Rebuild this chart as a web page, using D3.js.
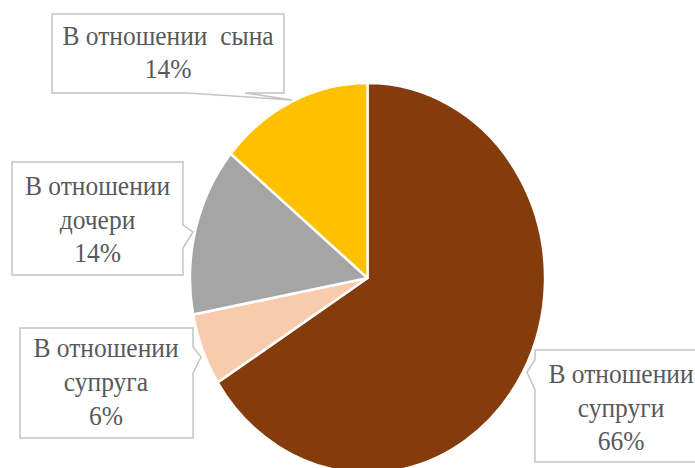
<!DOCTYPE html>
<html><head><meta charset="utf-8">
<script src="https://cdn.jsdelivr.net/npm/d3@7"></script>
<style>html,body{margin:0;padding:0;background:#fff;}svg{display:block;}
.lbl{font-family:"Liberation Serif","Times New Roman",serif;}</style>
</head><body>
<svg id="chart" width="695" height="468"></svg>
<script>
// Data
const categories = ["В отношении супруги", "В отношении супруга", "В отношении дочери", "В отношении  сына"];
const values = [66, 6, 14, 14];
const labelLines = [
  ["В отношении", "супруги", "66%"],
  ["В отношении", "супруга", "6%"],
  ["В отношении", "дочери", "14%"],
  ["В отношении  сына", "14%"]
];
const colors = ["#843C0C", "#F8CBAD", "#A5A5A5", "#FFC000"];

// Layout
const W = 695, H = 468;
const cx = 367.5, cy = 278, rx = 177.5, ry = 195;
const callouts = [
  {box:[535,350,708,462], side:"left",  base:[360,390], tip:[527,372], tx:621, baselines:[383,417,450]},
  {box:[20,328,193,438],  side:"right", base:[347,373], tip:[201,357], tx:106, baselines:[357,391,425]},
  {box:[12,162,183,275],  side:"right", base:[225,248], tip:[193,232], tx:97.5, baselines:[195,229,262]},
  {box:[52,14,284,93],    side:"bottom",base:[187,245], tip:[292,100], tx:168, baselines:[45,78]}
];

const svg = d3.select("#chart");
const pie = d3.pie().sort(null).value(d => d)(values);
const arc = d3.arc().innerRadius(0).outerRadius(rx);

svg.append("g")
  .attr("transform", `translate(${cx},${cy}) scale(1,${ry/rx})`)
  .selectAll("path").data(pie).join("path")
  .attr("d", arc)
  .attr("fill", (d,i) => colors[i])
  .attr("stroke", "#fff")
  .attr("stroke-width", 2.4)
  .attr("stroke-linejoin", "round");

function calloutPath(c){
  const [x0,y0,x1,y1] = c.box;
  const p = d3.path();
  p.moveTo(x0,y0);
  p.lineTo(x1,y0);
  if (c.side === "right"){
    p.lineTo(x1,c.base[0]); p.lineTo(c.tip[0],c.tip[1]); p.lineTo(x1,c.base[1]);
  }
  p.lineTo(x1,y1);
  if (c.side === "bottom"){
    p.lineTo(c.base[1],y1); p.lineTo(c.tip[0],c.tip[1]); p.lineTo(c.base[0],y1);
  }
  p.lineTo(x0,y1);
  if (c.side === "left"){
    p.lineTo(x0,c.base[1]); p.lineTo(c.tip[0],c.tip[1]); p.lineTo(x0,c.base[0]);
  }
  p.closePath();
  return p.toString();
}

const g = svg.append("g");
callouts.forEach((c,i) => {
  g.append("path")
    .attr("d", calloutPath(c))
    .attr("fill", "#fff")
    .attr("stroke", "#c4c4c4")
    .attr("stroke-width", 1.5);
  labelLines[i].forEach((line, j) => {
    g.append("g")
      .attr("transform", `translate(${c.tx},${c.baselines[j]}) scale(1,1.08)`)
      .append("text")
      .attr("class", "lbl")
      .attr("text-anchor", "middle")
      .attr("font-size", 25.5)
      .attr("fill", "#595959")
      .style("white-space", "pre")
      .text(line);
  });
});
</script>
</body></html>
